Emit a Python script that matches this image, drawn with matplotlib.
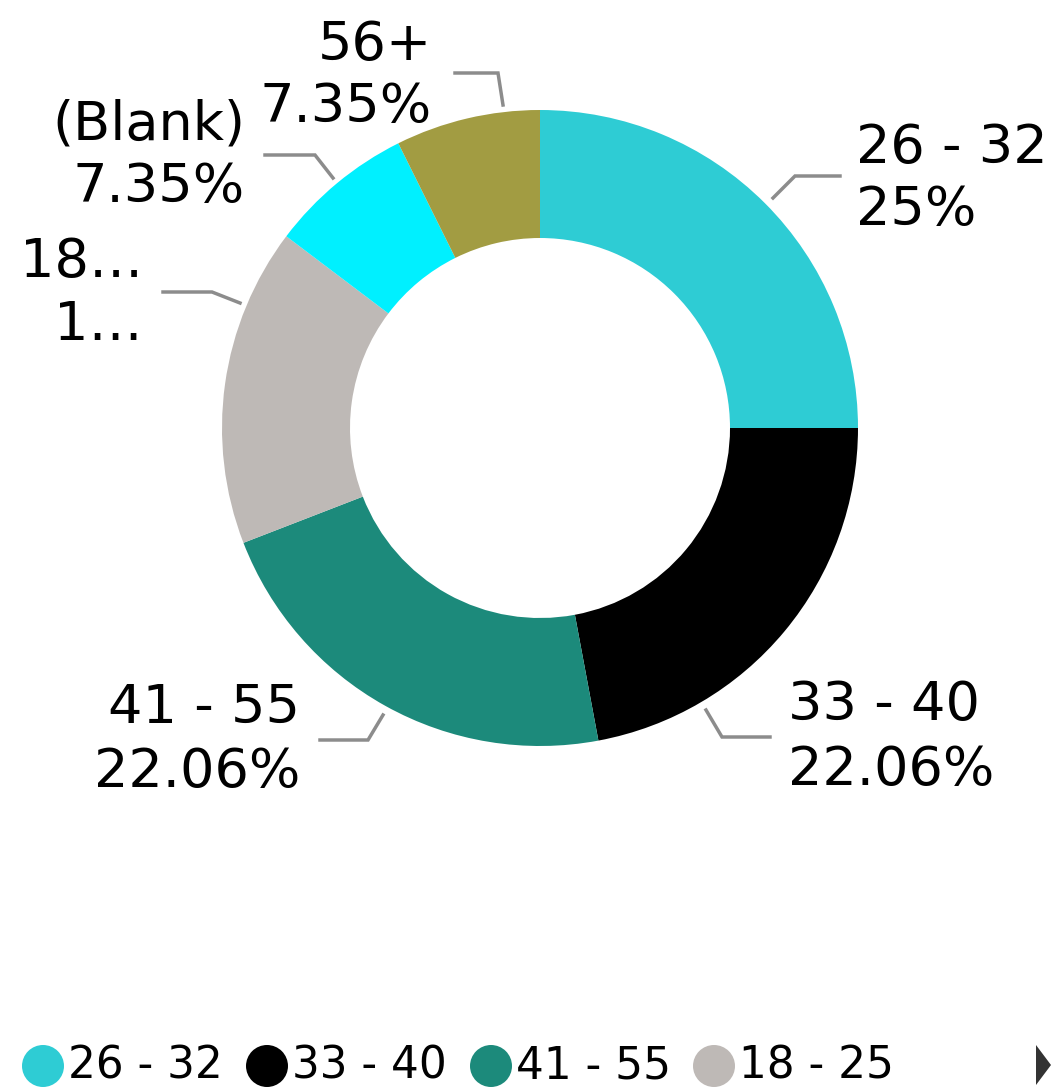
import matplotlib
matplotlib.use("Agg")
import matplotlib.pyplot as plt
from matplotlib.patches import Circle, Polygon

# data
categories = ["26 - 32", "33 - 40", "41 - 55", "18 - 25", "(Blank)", "56+"]
shares = [25.0, 22.06, 22.06, 16.18, 7.35, 7.35]
pct_labels = ["25%", "22.06%", "22.06%", "1\u2026", "7.35%", "7.35%"]
name_labels = ["26 - 32", "33 - 40", "41 - 55", "18\u2026", "(Blank)", "56+"]
colors = ["#2ECCD4", "#000000", "#1C8A7B", "#BEB9B6", "#00F0FF", "#A29C42"]
legend_items = ["26 - 32", "33 - 40", "41 - 55", "18 - 25"]

W, H = 1051, 1091
fig = plt.figure(figsize=(W / 100, H / 100), dpi=100)
ax = fig.add_axes([0, 0, 1, 1])


def Y(py):
    # pixel row -> data y
    return H - py


cx, cy = 540, Y(428)
ax.pie(shares, colors=colors, startangle=90, counterclock=False,
       radius=318, center=(cx, cy), frame=True,
       wedgeprops=dict(width=128, linewidth=0))
ax.set_xlim(0, W)
ax.set_ylim(0, H)
ax.set_aspect("auto")
ax.axis("off")

# label placement: (x, y line1, y line2, ha) and leader polyline
label_pos = [
    (856, 148, 210, "left"),
    (788, 705, 770, "left"),
    (300, 708, 772, "right"),
    (143, 262, 325, "right"),
    (245, 125, 187, "right"),
    (432, 45, 107, "right"),
]
leaders = [
    [(773, 198), (795, 176), (840, 176)],
    [(706, 710), (722, 737), (770, 737)],
    [(383, 715), (368, 740), (320, 740)],
    [(240, 303), (212, 292), (163, 292)],
    [(333, 178), (315, 155), (265, 155)],
    [(503, 105), (498, 73), (455, 73)],
]

fs = 39
for name, pct, (x, y1, y2, ha), pts in zip(name_labels, pct_labels, label_pos, leaders):
    ax.text(x, Y(y1), name, ha=ha, va="center", fontsize=fs, color="black")
    ax.text(x, Y(y2), pct, ha=ha, va="center", fontsize=fs, color="black")
    ax.plot([p[0] for p in pts], [Y(p[1]) for p in pts], color="#8C8C8C", lw=2.5,
            solid_joinstyle="miter")

# legend
leg_x = [43, 267, 491, 714]
for lab, col, x in zip(legend_items, colors, leg_x):
    ax.add_patch(Circle((x, Y(1066)), 21, color=col, lw=0))
    ax.text(x + 25, Y(1066), lab, ha="left", va="center", fontsize=31.5, color="black")

ax.add_patch(Polygon([(1036, Y(1045)), (1036, Y(1085)), (1051, Y(1065))],
                     closed=True, color="#333333", lw=0))

fig.savefig("out.png", dpi=100)
